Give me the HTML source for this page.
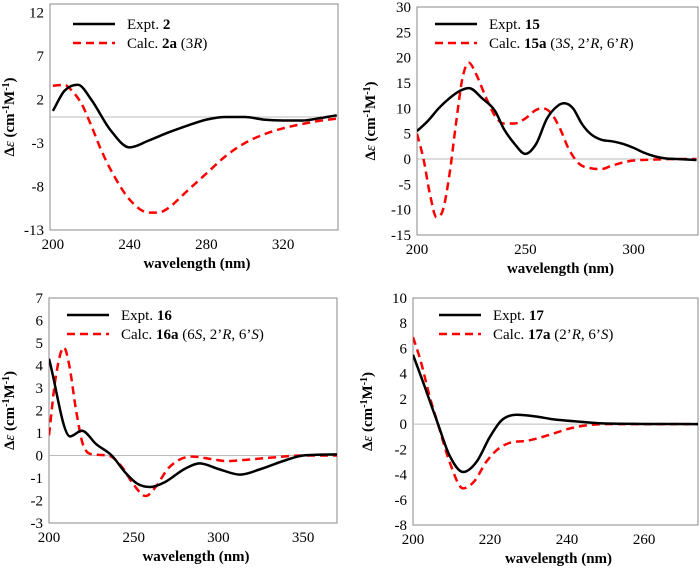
<!DOCTYPE html>
<html><head><meta charset="utf-8"><style>
body{margin:0;background:#fff}
svg, svg text{font-family:"Liberation Serif","DejaVu Serif",serif}
</style></head><body>
<svg id="c" width="700" height="570" viewBox="0 0 700 570" xmlns="http://www.w3.org/2000/svg" font-family="Liberation Serif, serif"></svg>
<script>
// Panel A data (compound 2)
const aX=[200,206,213,220,230,240,250,260,270,280,290,300,310,320,330,340,348];
const aExpt=[0.7,3,3.7,2,-1.5,-3.5,-2.7,-1.8,-1,-0.3,0,0,-0.3,-0.4,-0.4,-0.1,0.2];
const aCX=[200,206,210,215,220,225,230,240,250,255,260,270,280,290,300,310,320,330,340,348];
const aCalc=[3.6,3.7,3,1.5,-1,-3.7,-6,-9.5,-11,-11,-10.5,-8.5,-6.5,-4.5,-3,-2,-1.3,-0.8,-0.4,-0.2];
const aYT=[12,7,2,-3,-8,-13];const aXT=[200,240,280,320];
// Panel B data (compound 15)
const bX=[200,205,210,215,220,224,230,236,240,245,250,255,260,265,268,272,276,280,285,290,295,300,305,310,315,320,329];
const bExpt=[5.5,7.5,10,12,13.5,14,12,9.5,6,3,1,3,8,10.5,11,10,7,5,3.8,3.5,3,2.2,1.2,0.5,0.1,0,-0.2];
const bCX=[200,203,206,209,212,215,218,221,224,227,232,236,240,245,250,255,258,262,266,270,275,280,285,290,295,300,310,320,329];
const bCalc=[5,0,-7,-11.5,-10,-3,7,16,19,17,12,8.5,7,7,8,9.7,10,9,6,2,-1,-1.8,-2,-1.3,-0.7,-0.3,-0.1,0,0];
const bYT=[30,25,20,15,10,5,0,-5,-10,-15];const bXT=[200,250,300];
// Panel C data (compound 16)
const cX=[200,212.4,219.3,228,237,245,252,259.6,268,280,289,300,312.8,325,340,350,370];
const cExpt=[4.3,0.85,1.1,0.5,0,-0.75,-1.25,-1.4,-1.2,-0.6,-0.35,-0.6,-0.85,-0.6,-0.2,0,0.05];
const cCX=[200,204,208.8,212,216,220,226,235,243,250,257,263,270,278,285,295,305,315,330,350,370];
const cCalc=[0.9,3.5,4.8,4,2,0.5,0.05,0,-0.5,-1.3,-1.8,-1.4,-0.6,-0.15,-0.05,-0.15,-0.25,-0.2,-0.1,0,0];
const cYT=[7,6,5,4,3,2,1,0,-1,-2,-3];const cXT=[200,250,300,350];
// Panel D data (compound 17)
const dX=[200,203,206.5,209.5,213,216.5,220,223,227,232,236,243,250,274];
const dExpt=[5.5,3,0,-2.5,-3.8,-3,-1,0.3,0.75,0.6,0.4,0.2,0.05,0];
const dCX=[200,202,204.5,206.5,209.5,213,216,219,222,225,230,236,240,245,250,274];
const dCalc=[6.9,5,2,0,-3,-5.1,-4.5,-3,-2,-1.5,-1.3,-0.8,-0.4,-0.1,0,0];
const dYT=[10,8,6,4,2,0,-2,-4,-6,-8];const dXT=[200,220,240,260];

const svg=document.getElementById('c');const NS='http://www.w3.org/2000/svg';
function mk(t,a,p){const e=document.createElementNS(NS,t);for(const k in a)e.setAttribute(k,a[k]);if(t==='text')e.setAttribute('font-family','Liberation Serif, DejaVu Serif, serif');(p||svg).appendChild(e);return e;}
function path(xs,ys,X,Y){
 const px=xs.map(X),py=ys.map(Y),n=px.length;
 const d=[],m=new Array(n);
 for(let i=0;i<n-1;i++)d.push((py[i+1]-py[i])/(px[i+1]-px[i]));
 m[0]=d[0];m[n-1]=d[n-2];
 for(let i=1;i<n-1;i++){m[i]=(d[i-1]*d[i]<=0)?0:(d[i-1]+d[i])/2;}
 for(let i=0;i<n-1;i++){if(d[i]===0){m[i]=0;m[i+1]=0;continue;}const a=m[i]/d[i],b=m[i+1]/d[i],s=a*a+b*b;if(s>9){const t=3/Math.sqrt(s);m[i]=t*a*d[i];m[i+1]=t*b*d[i];}}
 let s='M'+px[0].toFixed(1)+','+py[0].toFixed(1);
 for(let i=0;i<n-1;i++){const h=(px[i+1]-px[i])/3;
  s+=' C'+(px[i]+h).toFixed(1)+','+(py[i]+m[i]*h).toFixed(1)+' '+(px[i+1]-h).toFixed(1)+','+(py[i+1]-m[i+1]*h).toFixed(1)+' '+px[i+1].toFixed(1)+','+py[i+1].toFixed(1);}
 return s;}
function panel(o){
 const g=mk('g',{});
 
 
 const X=v=>o.L+(v-o.x0)*(o.R-o.L)/(o.x1-o.x0);
 const Y=v=>o.B-(v-o.y0)*(o.B-o.T)/(o.y1-o.y0);
 const box=mk('rect',{x:o.L,y:o.T,width:o.R-o.L,height:o.B-o.T,fill:'none',stroke:'#888','stroke-width':1},g);
 
 const z=mk('line',{x1:o.L,x2:o.R,y1:Y(0),y2:Y(0),stroke:'#bbb','stroke-width':1},g);
 
 o.yt.forEach(v=>{const t=mk('text',{x:o.L-6,y:Y(v)+5,'text-anchor':'end','font-size':15},g);t.textContent=v;
  });
 o.xt.forEach(v=>{const t=mk('text',{x:X(v),y:o.B+19,'text-anchor':'middle','font-size':15},g);t.textContent=v;
  });
 const xl=mk('text',{x:(o.L+o.R)/2+3,y:o.B+38,'text-anchor':'middle','font-size':15,'font-weight':'bold'},g);xl.textContent='wavelength (nm)';
 
 const yl=mk('text',{transform:`translate(${o.yx},${(o.T+o.B)/2}) rotate(-90)`,'text-anchor':'middle','font-size':15,'font-weight':'bold'},g);
 yl.innerHTML='Δ<tspan font-style="italic" font-weight="normal">ε</tspan> (cm<tspan dy="-5" font-size="10">-1</tspan><tspan dy="5">M</tspan><tspan dy="-5" font-size="10">-1</tspan><tspan dy="5">)</tspan>';
 
 const cp=mk('clipPath',{id:'cl'+o.name},g);mk('rect',{x:o.L,y:o.T,width:o.R-o.L,height:o.B-o.T},cp);
 const r=mk('path',{d:path(o.cx,o.cy,X,Y),fill:'none',stroke:'#f00','stroke-width':2.5,'stroke-dasharray':'8,5','clip-path':`url(#cl${o.name})`},g);
 
 const k=mk('path',{d:path(o.ex,o.ey,X,Y),fill:'none',stroke:'#000','stroke-width':2.5,'clip-path':`url(#cl${o.name})`},g);
 
 const lg=mk('g',{},g);
 mk('line',{x1:o.lx,x2:o.lx+42,y1:o.ly,y2:o.ly,stroke:'#000','stroke-width':2.5},lg);
 mk('line',{x1:o.lx,x2:o.lx+42,y1:o.ly+19,y2:o.ly+19,stroke:'#f00','stroke-width':2.5,'stroke-dasharray':'8,5'},lg);
 const t1=mk('text',{x:o.lx+54,y:o.ly+5,'font-size':15},lg);t1.innerHTML=o.l1;
 
 const t2=mk('text',{x:o.lx+54,y:o.ly+24,'font-size':15},lg);t2.innerHTML=o.l2;
 
}
panel({name:'panel-2',L:50,R:338,T:4,B:230,x0:198.5,x1:348.6,y0:-13,y1:13,yt:aYT,xt:aXT,ex:aX,ey:aExpt,cx:aCX,cy:aCalc,yx:14,lx:73,ly:24,
 l1:'Expt. <tspan font-weight="bold">2</tspan>',l2:'Calc. <tspan font-weight="bold">2a</tspan> (3<tspan font-style="italic">R</tspan>)'});
panel({name:'panel-15',L:417,R:698,T:7,B:235,x0:200,x1:329.7,y0:-15,y1:30,yt:bYT,xt:bXT,ex:bX,ey:bExpt,cx:bCX,cy:bCalc,yx:375,lx:435,ly:24,
 l1:'Expt. <tspan font-weight="bold">15</tspan>',l2:'Calc. <tspan font-weight="bold">15a</tspan> (3<tspan font-style="italic">S</tspan>, 2’<tspan font-style="italic">R</tspan>, 6’<tspan font-style="italic">R</tspan>)'});
panel({name:'panel-16',L:49,R:337,T:298,B:523,x0:200,x1:370,y0:-3,y1:7,yt:cYT,xt:cXT,ex:cX,ey:cExpt,cx:cCX,cy:cCalc,yx:14,lx:67,ly:315,
 l1:'Expt. <tspan font-weight="bold">16</tspan>',l2:'Calc. <tspan font-weight="bold">16a</tspan> (6<tspan font-style="italic">S</tspan>, 2’<tspan font-style="italic">R</tspan>, 6’<tspan font-style="italic">S</tspan>)'});
panel({name:'panel-17',L:413,R:698,T:298,B:525,x0:200,x1:274,y0:-8,y1:10,yt:dYT,xt:dXT,ex:dX,ey:dExpt,cx:dCX,cy:dCalc,yx:372,lx:439,ly:315,
 l1:'Expt. <tspan font-weight="bold">17</tspan>',l2:'Calc. <tspan font-weight="bold">17a</tspan> (2’<tspan font-style="italic">R</tspan>, 6’<tspan font-style="italic">S</tspan>)'});
</script>
</body></html>
